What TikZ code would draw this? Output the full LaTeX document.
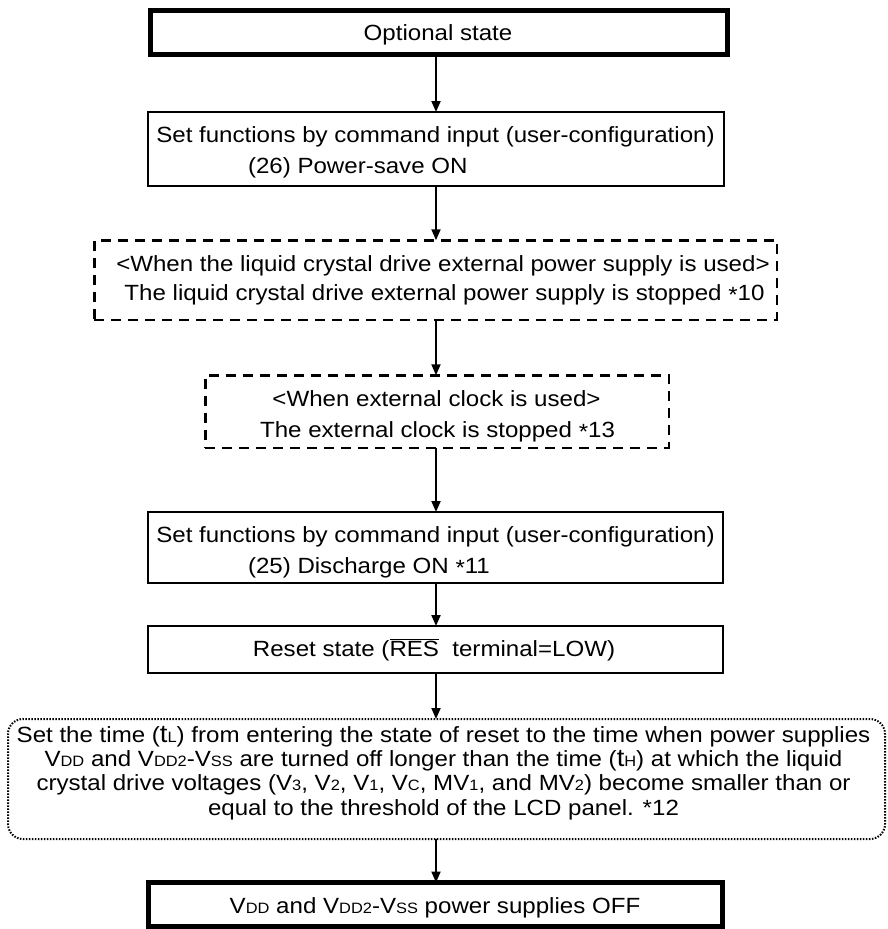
\documentclass[tikz,border=0pt]{standalone}
\usepackage{fontspec}
\setmainfont[FakeStretch=1.095]{Liberation Sans}
\usetikzlibrary{arrows.meta}

% small capital-style index letters (VDD, VSS, V3 ...)
\newcommand{\ix}[1]{{\fontsize{15}{15}\selectfont #1}}
\newcommand{\bigt}{{\fontsize{25}{25}\selectfont t}}
\newcommand{\nstar}{\raisebox{-0.25ex}{*}}

\begin{document}
\begin{tikzpicture}[x=1pt,y=-1pt,
  every node/.style={inner sep=0pt,outer sep=0pt},
  txt/.style={anchor=base,font=\fontsize{22}{24}\selectfont},
  txtl/.style={anchor=base west,font=\fontsize{22}{24}\selectfont},
  heavybox/.style={draw,line width=5pt,rectangle},
  plainbox/.style={draw,line width=2pt,rectangle},
  dashbox/.style={draw,line width=2.5pt,rectangle,dash pattern=on 10pt off 7pt},
  dotbox/.style={draw,line width=2pt,rectangle,rounded corners=15pt,dash pattern=on 1.5pt off 1.5pt},
  arr/.style={line width=2pt,-{Triangle[length=11pt,width=9pt]}}]

\useasboundingbox (0,0) rectangle (888,929);

% spine of the flow
\coordinate (spine) at (436,0);

% boxes
\node[heavybox,minimum width=577pt,minimum height=44pt] (b1) at (439,32.5) {};
\node[plainbox,minimum width=576pt,minimum height=74pt] (b2) at (436,149) {};
\node[dashbox,minimum width=682.5pt,minimum height=79.5pt] (b3) at (435.5,280) {};
\node[dashbox,minimum width=463.5pt,minimum height=72.5pt] (b4) at (437,411.5) {};
\node[plainbox,minimum width=575pt,minimum height=71pt] (b5) at (435.5,547.5) {};
\node[plainbox,minimum width=575pt,minimum height=47pt] (b6) at (435.5,649.5) {};
\node[dotbox,minimum width=877pt,minimum height=120pt] (b7) at (446.5,779) {};
\node[heavybox,minimum width=574pt,minimum height=44pt] (b8) at (435.5,904.5) {};

% texts
\node[txt] (t1) at (438,40) {Optional state};

\node[txt] (t2a) at (435.5,142) {Set functions by command input (user-configuration)};
\node[txtl] (t2b) at (248,173) {(26) Power-save ON};

\node[txt] (t3a) at (443,271) {<When the liquid crystal drive external power supply is used>};
\node[txt] (t3b) at (444.5,300) {The liquid crystal drive external power supply is stopped \nstar10};

\node[txt] (t4a) at (436.5,406) {<When external clock is used>};
\node[txt] (t4b) at (437.5,437) {The external clock is stopped \nstar13};

\node[txt] (t5a) at (435.5,542) {Set functions by command input (user-configuration)};
\node[txtl] (t5b) at (248,573) {(25) Discharge ON \nstar11};

\node[txt] (t6) at (434,656) {Reset state ($\overline{\hbox{RES}}$\ \ terminal=LOW)};

\node[txt] (t7a) at (443.5,742) {Set the time (\bigt\ix{L}) from entering the state of reset to the time when power supplies};
\node[txt] (t7b) at (443.5,766.3) {V\ix{DD} and V\ix{DD2}-V\ix{SS} are turned off longer than the time (\bigt\ix{H}) at which the liquid};
\node[txt] (t7c) at (443.5,790.6) {crystal drive voltages (V\ix{3}, V\ix{2}, V\ix{1}, V\ix{C}, MV\ix{1}, and MV\ix{2}) become smaller than or};
\node[txt] (t7d) at (443.5,815) {equal to the threshold of the LCD panel. *12};

\node[txt] (t8) at (435,913) {V\ix{DD} and V\ix{DD2}-V\ix{SS} power supplies OFF};

% connectors
\draw[arr] (b1.south -| spine) -- (b2.north -| spine);
\draw[arr] (b2.south -| spine) -- (b3.north -| spine);
\draw[arr] (b3.south -| spine) -- (b4.north -| spine);
\draw[arr] (b4.south -| spine) -- (b5.north -| spine);
\draw[arr] (b5.south -| spine) -- (b6.north -| spine);
\draw[arr] (b6.south -| spine) -- (b7.north -| spine);
\draw[arr] (b7.south -| spine) -- (b8.north -| spine);
\end{tikzpicture}
\end{document}
